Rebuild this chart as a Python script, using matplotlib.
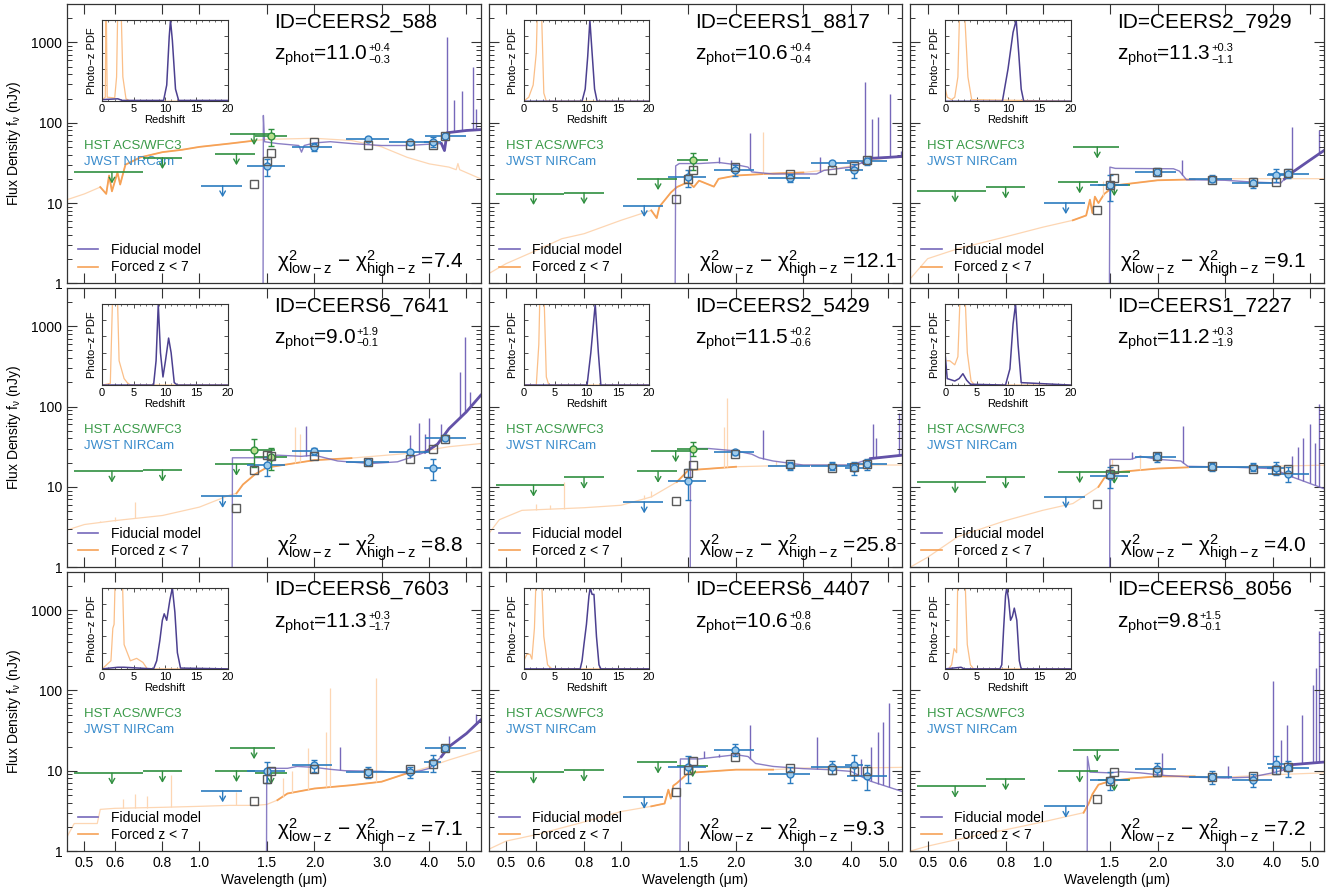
import numpy as np
import matplotlib
matplotlib.use("Agg")
import matplotlib.pyplot as plt
from matplotlib.lines import Line2D
from matplotlib.ticker import FixedLocator, NullLocator, LogLocator, MultipleLocator, NullFormatter

plt.rcParams["font.family"] = ["Liberation Sans", "DejaVu Sans"]
plt.rcParams["mathtext.fontset"] = "custom"
plt.rcParams["mathtext.rm"] = "Liberation Sans"
plt.rcParams["mathtext.it"] = "Liberation Sans:italic"
plt.rcParams["mathtext.bf"] = "Liberation Sans:bold"
plt.rcParams["mathtext.default"] = "regular"

nan = np.nan

# ---- galaxy summary ----
IDS = ["CEERS2_588", "CEERS1_8817", "CEERS2_7929", "CEERS6_7641", "CEERS2_5429",
       "CEERS1_7227", "CEERS6_7603", "CEERS6_4407", "CEERS6_8056"]
ZPHOT = ["11.0", "10.6", "11.3", "9.0", "11.5", "11.2", "11.3", "10.6", "9.8"]
ZERR_UP = ["0.4", "0.4", "0.3", "1.9", "0.2", "0.3", "0.3", "0.8", "1.5"]
ZERR_LO = ["0.3", "0.4", "1.1", "0.1", "0.6", "1.9", "1.7", "0.6", "0.1"]
DCHI2 = ["7.4", "12.1", "9.1", "8.8", "25.8", "4.0", "7.1", "9.3", "7.2"]

# ---- filters ----
BANDS = ["F606W", "F814W", "F125W", "F140W", "F160W",
         "F115W", "F150W", "F200W", "F277W", "F356W", "F410M", "F444W"]
BAND_WAVE = [0.59, 0.80, 1.25, 1.39, 1.54, 1.15, 1.50, 1.99, 2.77, 3.56, 4.08, 4.40]
BAND_MIN = [0.47, 0.71, 1.10, 1.20, 1.40, 1.01, 1.33, 1.75, 2.42, 3.14, 3.86, 3.90]
BAND_MAX = [0.71, 0.90, 1.40, 1.58, 1.69, 1.29, 1.67, 2.23, 3.13, 3.98, 4.30, 4.98]
BAND_HST = [True, True, True, True, True, False, False, False, False, False, False, False]

# ---- photometry (nJy); kind: u = upper limit, d = detection, . = no data ----
PHOT_KIND = ["uuuududddddd", "uuu.dudddddd", "uuuuuudddddd",
             "uuuddudddddd", "uuuududddddd", "uuu.uudddddd",
             "uuuuuudddddd", "uuu.uudddddd", "uuuuuudddddd"]
PHOT_FLUX = [
    [24.3, 36.7, 41.0, 73.0, 67.6, 16.4, 28.6, 49.8, 63.0, 57.5, 57.5, 67.6],
    [13.1, 13.4, 20.1, nan, 34.0, 9.3, 21.0, 25.5, 20.7, 31.7, 25.5, 33.0],
    [14.1, 15.8, 18.3, 49.8, 16.9, 10.1, 16.6, 24.5, 20.1, 17.9, 22.5, 23.3],
    [15.7, 16.1, 19.1, 28.6, 23.4, 7.6, 18.6, 27.8, 20.5, 26.8, 17.2, 41.0],
    [10.5, 13.1, 15.6, 28.1, 30.0, 6.5, 11.8, 26.8, 18.3, 18.3, 17.2, 19.1],
    [11.5, 13.1, 15.4, nan, 15.1, 7.5, 13.6, 23.6, 17.7, 17.7, 17.2, 14.6],
    [9.3, 9.8, 10.0, 19.3, 9.3, 5.6, 10.0, 11.7, 9.7, 9.5, 12.7, 19.0],
    [9.5, 10.1, 12.8, nan, 11.5, 4.65, 11.1, 18.3, 9.1, 11.2, 11.7, 8.7],
    [6.4, 7.9, 9.8, 17.9, 7.7, 3.6, 7.7, 10.5, 8.3, 7.7, 12.1, 10.8],
]
PHOT_ERR = [
    [0, 0, 0, 0, 17, 0, 7, 6, 3, 3, 8, 3],
    [0, 0, 0, 0, 8, 0, 5, 4, 2.5, 2, 5, 3],
    [0, 0, 0, 0, 0, 0, 6, 3, 2, 2.5, 4, 3],
    [0, 0, 0, 11, 7, 0, 5, 3, 2, 2, 5, 3],
    [0, 0, 0, 0, 6, 0, 5, 2, 2, 2, 3, 3],
    [0, 0, 0, 0, 0, 0, 4, 3, 2, 2, 3, 3],
    [0, 0, 0, 0, 0, 0, 3, 2, 1.5, 1.5, 3, 1.5],
    [0, 0, 0, 0, 0, 0, 4, 3, 2, 2, 4, 3],
    [0, 0, 0, 0, 0, 0, 2, 2, 1.5, 1.5, 3, 2.5],
]
MODEL_FLUX = [
    [nan, nan, nan, 17.4, 42.0, nan, 33.0, 57.5, 53.0, 53.0, 53.0, 67.6],
    [nan, nan, nan, 11.1, 25.5, nan, 19.7, 28.0, 23.1, 26.0, 29.0, 34.6],
    [nan, nan, nan, 8.3, 20.4, nan, 16.9, 24.4, 19.2, 18.3, 18.3, 23.6],
    [nan, nan, 5.5, 16.1, 24.4, nan, 24.8, 24.4, 20.5, 22.1, 29.5, 39.0],
    [nan, nan, nan, 6.6, 18.6, nan, 15.0, 26.0, 19.5, 17.2, 17.7, 19.0],
    [nan, nan, nan, 6.1, 16.9, nan, 14.5, 24.0, 18.0, 16.9, 16.1, 16.9],
    [nan, nan, nan, 4.2, 10.0, nan, 7.9, 10.5, 9.3, 10.4, 12.2, 19.0],
    [nan, nan, nan, 5.5, 13.3, nan, 10.3, 14.6, 10.8, 10.3, 9.8, 10.0],
    [nan, nan, nan, 4.4, 9.5, nan, 7.4, 9.6, 8.3, 8.7, 10.3, 11.0],
]

# ---- fiducial (high-z) model spectra: continuum knots + emission lines ----
FID_WAVE = [
    [0.45, 1.465, 1.47, 1.48, 1.6, 1.82, 1.85, 1.88, 2.0, 2.2, 2.5, 3.0, 3.5, 4.0, 4.3, 4.38, 4.45, 5.0, 5.45],
    [0.45, 1.38, 1.39, 1.42, 1.6, 1.8, 2.0, 2.15, 2.2, 2.5, 3.0, 3.25, 3.4, 4.0, 4.3, 4.5, 5.0, 5.45],
    [0.45, 1.49, 1.5, 1.55, 2.2, 2.28, 2.38, 3.0, 3.5, 4.2, 4.3, 4.5, 5.0, 5.45],
    [0.45, 1.215, 1.22, 1.5, 1.6, 1.85, 2.0, 2.3, 2.8, 3.3, 3.5, 3.9, 4.2, 4.5, 5.0, 5.45],
    [0.45, 1.515, 1.52, 1.7, 2.0, 2.2, 2.3, 2.5, 3.0, 4.0, 4.5, 5.45],
    [0.45, 1.495, 1.5, 1.7, 1.8, 2.0, 2.3, 2.4, 3.0, 4.0, 4.5, 5.45],
    [0.45, 1.495, 1.5, 1.7, 1.8, 2.0, 2.2, 2.4, 3.0, 3.5, 3.8, 4.0, 4.3, 4.5, 5.0, 5.45],
    [0.45, 1.42, 1.43, 1.6, 2.0, 2.15, 2.25, 2.5, 3.0, 3.5, 4.0, 4.5, 5.45],
    [0.45, 1.305, 1.31, 1.33, 1.5, 1.6, 1.8, 2.1, 2.5, 3.0, 3.5, 4.0, 4.3, 4.5, 5.45],
]
FID_FLUX = [
    [0.01, 0.01, 123, 58, 55, 52, 43, 52, 56, 58, 55, 52, 52, 54, 55, 45, 75, 80, 82],
    [0.01, 0.01, 29, 31, 31, 32, 30, 28, 24.4, 23, 23, 23, 25.5, 28, 32, 36, 37, 38],
    [0.01, 0.01, 28, 27, 26.7, 25, 19.5, 19.2, 18.3, 17.7, 20, 24, 34, 45],
    [0.01, 0.01, 23, 23, 24.8, 24, 24.8, 21, 19.5, 20.5, 22.5, 27, 34, 53, 86, 138],
    [0.01, 0.01, 30, 30, 28, 25.5, 23, 21, 18.7, 18.7, 22.5, 24.8],
    [0.01, 0.01, 22, 22, 24, 22, 21, 18, 17.7, 16.9, 13.3, 9.5],
    [0.01, 0.01, 10.7, 10.7, 11.3, 11, 10.4, 10, 9.8, 9.4, 10, 10.7, 15, 19.9, 29, 42.8],
    [0.01, 0.01, 14, 14, 15.8, 15, 12.3, 11.3, 10.6, 10.3, 9.8, 7.4, 5.5],
    [0.01, 0.01, 15, 9.6, 9.4, 9.7, 9.4, 8.7, 8.3, 8.1, 8.3, 9.4, 10.3, 11.9, 12.8],
]
FID_LINE_WAVE = [
    [4.45, 4.64, 4.88, 5.19, 5.3],
    [1.81, 1.94, 2.17, 3.32, 4.36, 4.55, 4.7, 5.05, 5.4],
    [2.32, 4.5, 5.3],
    [1.90, 3.56, 3.76, 3.9, 4.0, 4.3, 4.8, 4.97, 5.1],
    [2.36, 4.56, 4.65, 5.35, 5.45],
    [1.71, 2.33, 4.5, 4.65, 4.8, 5.0, 5.15, 5.3],
    [2.34, 3.5, 4.5, 5.3],
    [1.65, 1.8, 2.18, 3.26, 4.25, 4.5, 4.7, 4.85, 5.04],
    [2.05, 3.05, 4.0, 4.2, 4.35, 4.78, 5.1, 5.2, 5.3],
]
FID_LINE_PEAK = [
    [1165, 190, 250, 490, 150],
    [37, 34, 74, 37, 322, 112, 117, 230, 45],
    [34, 88, 80],
    [58, 44, 62, 46, 72, 60, 270, 740, 150],
    [51, 60, 40, 82, 120],
    [27, 57, 24, 31, 40, 60, 35, 109],
    [19.5, 11, 27, 51],
    [17.5, 16, 37, 26, 14, 20, 30, 40, 69],
    [16.6, 11.5, 129, 24, 37, 50, 117, 190, 543],
]
FID_DENSE = [(4.3, 5.5), (4.3, 5.5), (4.3, 5.5), (3.8, 5.5), (4.4, 5.5),
             (4.4, 5.3), (4.2, 5.5), (4.2, 5.1), (4.3, 5.5)]

# ---- forced z<7 model spectra ----
LOW_WAVE = [
    [0.45, 0.5, 0.55, 0.57, 0.58, 0.59, 0.61, 0.62, 0.64, 0.7, 0.8, 0.9, 1.0, 1.2, 1.4, 1.5, 2.0, 2.5, 3.0, 3.5, 4.0, 4.5, 4.7, 4.75, 4.8, 5.45],
    [0.45, 0.5, 0.6, 0.7, 0.8, 1.0, 1.2, 1.24, 1.26, 1.3, 1.35, 1.4, 1.45, 1.5, 1.55, 1.6, 1.75, 1.8, 2.0, 2.5, 3.0, 3.5, 4.0, 4.5, 5.45],
    [0.45, 0.5, 0.6, 0.8, 1.0, 1.2, 1.3, 1.33, 1.35, 1.37, 1.4, 1.45, 1.55, 2.0, 2.5, 3.0, 4.0, 5.45],
    [0.45, 0.5, 0.6, 0.8, 1.0, 1.2, 1.25, 1.3, 1.4, 1.5, 2.0, 2.5, 3.0, 3.5, 4.0, 4.5, 5.45],
    [0.45, 0.48, 0.55, 0.8, 1.0, 1.2, 1.4, 1.5, 2.0, 3.0, 4.0, 5.45],
    [0.45, 0.5, 0.6, 0.8, 1.0, 1.2, 1.4, 1.45, 1.5, 1.6, 2.0, 2.4, 3.0, 4.0, 5.45],
    [0.45, 0.47, 0.54, 0.55, 0.6, 0.8, 1.0, 1.2, 1.4, 1.5, 1.6, 1.7, 2.0, 2.5, 3.0, 3.5, 4.0, 4.5, 5.45],
    [0.45, 0.5, 0.6, 0.8, 1.0, 1.2, 1.3, 1.33, 1.35, 1.37, 1.4, 1.5, 2.0, 2.5, 3.0, 4.0, 5.45],
    [0.45, 0.5, 0.6, 0.8, 1.0, 1.2, 1.28, 1.32, 1.35, 1.4, 1.5, 1.7, 2.0, 2.5, 3.0, 4.0, 5.45],
]
LOW_FLUX = [
    [11, 13, 15.8, 13, 22, 14, 24, 17, 30, 37, 43, 46, 50, 55, 60, 62, 64, 60, 50, 37, 30.7, 28, 26, 31, 26, 20],
    [1.32, 1.76, 2.57, 3.6, 4.15, 6.1, 8.1, 6.5, 9, 10.8, 13.5, 15.8, 17, 18.3, 15.8, 19, 16, 20, 22, 23.3, 24, 26, 29, 34, 39],
    [1.14, 2.03, 2.7, 3.8, 5.0, 6.1, 7.0, 11, 7.5, 12, 10, 13, 16.6, 19.2, 19.7, 20.1, 20.1, 20.1],
    [2.9, 3.4, 3.8, 4.4, 5.6, 7.9, 8.3, 10.7, 14.4, 17.4, 21.5, 22.8, 24.5, 26, 28.8, 31.6, 34.6],
    [2.6, 3.9, 5.1, 5.5, 5.9, 7.5, 11.5, 16.1, 17.8, 18.7, 18.7, 18.7],
    [1.0, 1.33, 2.4, 3.8, 5.1, 6.2, 10, 12.9, 14, 15.4, 16.9, 17.5, 17.7, 18.1, 18.6],
    [1.5, 2.2, 2.2, 3.3, 3.4, 3.5, 3.6, 3.7, 3.7, 3.8, 4.3, 5.2, 6.0, 6.6, 7.3, 9.3, 11.2, 13.6, 18],
    [1.05, 1.33, 1.6, 2.3, 3.1, 3.6, 3.9, 5.8, 4.5, 6.5, 7.0, 9.4, 10.3, 10.3, 10.8, 10.8, 11],
    [1.0, 1.15, 1.4, 1.84, 2.3, 2.8, 3.0, 3.9, 5.1, 6.7, 7.4, 8.0, 8.5, 8.5, 8.3, 8.9, 9.4],
]
LOW_LINE_WAVE = [
    [],
    [2.35],
    [1.44],
    [0.55, 0.6, 0.68, 1.78, 1.83],
    [0.6, 0.65, 0.71, 1.15, 1.2, 1.86, 1.89, 2.55],
    [1.52, 1.8],
    [0.63, 0.68, 0.73, 0.84, 1.25, 1.65, 1.75, 1.92, 2.15, 2.2, 2.9],
    [],
    [],
]
LOW_LINE_PEAK = [
    [],
    [76],
    [19],
    [3.8, 4.2, 6.5, 56, 45],
    [6.2, 6.0, 11.5, 8.0, 8.8, 55, 126, 21],
    [22, 25],
    [4.4, 5.2, 4.8, 8.8, 5.5, 8, 10, 19, 30, 106, 141],
    [],
    [],
]
LOW_DENSE = [(0.55, 1.45), (1.2, 3.3), (1.2, 2.6), (1.25, 2.7), (1.35, 2.2),
             (1.3, 2.4), (1.6, 3.5), (1.2, 2.9), (1.25, 2.8)]

# ---- photo-z probability distributions (normalised to peak) ----
PDF_Z_FID = [
    [0, 2.5, 3.2, 9.8, 10.3, 10.7, 10.9, 11.2, 11.7, 12.2, 20],
    [0, 9.3, 9.8, 10.2, 10.55, 10.9, 11.3, 11.7, 20],
    [0, 9.1, 10.0, 10.8, 11.3, 11.7, 12.1, 12.5, 20],
    [0, 8.2, 8.6, 8.95, 9.3, 9.7, 10.1, 10.6, 11.0, 11.5, 12, 20],
    [0, 10.1, 10.7, 11.4, 11.9, 12.3, 20],
    [0, 0.3, 1.5, 2.2, 2.8, 3.4, 4.0, 9.6, 10.3, 10.8, 11.2, 11.6, 12.1, 20],
    [0, 2.5, 3.5, 8.2, 8.7, 9.2, 9.6, 9.9, 10.3, 10.8, 11.2, 11.6, 12.0, 12.5, 20],
    [0, 9.0, 9.3, 9.6, 10.0, 10.4, 10.6, 10.9, 11.2, 11.6, 12.0, 12.3, 20],
    [0, 2.5, 3.0, 8.7, 9.0, 9.3, 9.6, 9.8, 10.1, 10.4, 10.7, 11.0, 11.4, 11.8, 12.1, 20],
]
PDF_P_FID = [
    [0.02, 0.03, 0.01, 0.01, 0.2, 0.8, 1.0, 0.75, 0.15, 0.01, 0.01],
    [0, 0, 0.15, 0.55, 1.0, 0.6, 0.15, 0, 0],
    [0, 0, 0.4, 0.85, 1.0, 0.6, 0.15, 0, 0],
    [0, 0, 0.3, 1.0, 0.4, 0.1, 0.3, 0.58, 0.4, 0.03, 0, 0],
    [0, 0, 0.4, 1.0, 0.4, 0, 0],
    [0.35, 0.08, 0.05, 0.08, 0.14, 0.06, 0.01, 0, 0.2, 0.75, 1.0, 0.5, 0.03, 0],
    [0, 0.02, 0.02, 0, 0.1, 0.35, 0.6, 0.68, 0.6, 0.85, 1.0, 0.7, 0.2, 0.01, 0],
    [0, 0, 0.1, 0.3, 0.55, 0.9, 1.0, 0.92, 0.92, 0.4, 0.05, 0, 0],
    [0, 0.02, 0, 0, 0.05, 0.5, 0.9, 1.0, 0.85, 0.6, 0.65, 0.75, 0.6, 0.1, 0, 0],
]
PDF_Z_LOW = [
    [0, 0.5, 0.6, 0.65, 0.8, 2.0, 2.3, 2.5, 3.0, 3.3, 3.8, 4.5, 20],
    [0, 0.8, 1.5, 2.0, 2.2, 2.8, 3.2, 3.6, 20],
    [0, 0.3, 1.0, 1.5, 2.0, 2.3, 3.0, 3.6, 4.2, 20],
    [0, 1.3, 1.7, 2.4, 2.7, 3.5, 4.0, 4.5, 20],
    [0, 2.0, 2.4, 2.6, 3.2, 3.6, 4.0, 20],
    [0.3, 0.7, 1.5, 2.0, 2.4, 3.1, 3.5, 4.1, 4.7, 20],
    [0, 1.4, 1.7, 1.9, 2.1, 3.2, 3.5, 4.5, 5.5, 6.5, 7.2, 20],
    [0, 0.5, 1.0, 1.3, 1.7, 2.0, 2.8, 3.2, 3.8, 4.5, 20],
    [0.5, 1.0, 1.4, 1.8, 2.0, 3.1, 3.5, 4.0, 4.5, 20],
]
PDF_P_LOW = [
    [0.02, 0.05, 1.2, 1.2, 0.05, 0.04, 0.3, 1.2, 1.2, 0.3, 0.03, 0.0, 0.0],
    [0, 0.05, 0.2, 0.6, 1.2, 1.2, 0.1, 0, 0],
    [0.15, 0.05, 0.02, 0.05, 0.3, 1.2, 1.2, 0.3, 0.02, 0],
    [0, 0.02, 1.2, 1.2, 0.3, 0.08, 0.03, 0, 0],
    [0, 0, 0.5, 1.2, 1.2, 0.1, 0, 0],
    [0.3, 0.3, 0.25, 0.35, 1.2, 1.2, 0.4, 0.05, 0, 0],
    [0, 0.1, 0.5, 0.55, 1.2, 1.2, 0.3, 0.1, 0.13, 0.08, 0, 0],
    [0.1, 0.18, 0.18, 0.12, 0.5, 1.2, 1.2, 0.4, 0.05, 0, 0],
    [0, 0.05, 0.25, 0.2, 1.2, 1.2, 0.3, 0.05, 0, 0],
]

XTICKS = [0.5, 0.6, 0.8, 1.0, 1.5, 2.0, 3.0, 4.0, 5.0]
XTICK_LABELS = ["0.5", "0.6", "0.8", "1.0", "1.5", "2.0", "3.0", "4.0", "5.0"]
YTICKS = [1, 10, 100, 1000]
YTICK_LABELS = ["1", "10", "100", "1000"]

FID_COLOR = "#7668ba"
FID_DARK = "#6352a8"
FID_PDF = "#4c4090"
LOW_LIGHT = "#fdd6b3"
LOW_DARK = "#f6a257"
HST_COLOR = "#2f8f3f"
HST_FILL = "#b8de8c"
JWST_COLOR = "#2b7bbf"
JWST_FILL = "#9dcbec"
MODEL_EDGE = "#5a5a5a"
AX_COLOR = "#333333"


def draw_line_spikes(ax, wave, flux, line_wave, line_peak, color, lw):
    if len(line_wave) == 0:
        return
    base = np.exp(np.interp(np.log(line_wave), np.log(wave), np.log(flux)))
    ax.vlines(line_wave, base, line_peak, color=color, lw=lw, zorder=1.5)


def draw_panel(ax, i):
    # forced low-z model
    lw_ = np.array(LOW_WAVE[i])
    lf = np.array(LOW_FLUX[i])
    ax.plot(lw_, lf, color=LOW_LIGHT, lw=0.9, zorder=1)
    draw_line_spikes(ax, lw_, lf, LOW_LINE_WAVE[i], LOW_LINE_PEAK[i], LOW_LIGHT, 0.9)
    lo, hi = LOW_DENSE[i]
    m = (lw_ >= lo) & (lw_ <= hi)
    ax.plot(lw_[m], lf[m], color=LOW_DARK, lw=1.3, zorder=1.1)

    # fiducial model
    fw = np.array(FID_WAVE[i])
    ff = np.array(FID_FLUX[i])
    ax.plot(fw, ff, color=FID_COLOR, lw=1.0, alpha=0.85, zorder=2)
    draw_line_spikes(ax, fw, ff, FID_LINE_WAVE[i], FID_LINE_PEAK[i], FID_COLOR, 1.0)
    lo, hi = FID_DENSE[i]
    m = (fw >= lo) & (fw <= hi)
    ax.plot(fw[m], ff[m], color=FID_DARK, lw=2.0, zorder=2.1)

    # photometry
    for b in range(len(BANDS)):
        kind = PHOT_KIND[i][b]
        if kind == ".":
            continue
        col = HST_COLOR if BAND_HST[b] else JWST_COLOR
        fill = HST_FILL if BAND_HST[b] else JWST_FILL
        x = BAND_WAVE[b]
        y = PHOT_FLUX[i][b]
        if kind == "u":
            ax.hlines(y, BAND_MIN[b], BAND_MAX[b], color=col, lw=1.2, zorder=4)
            ax.annotate("", xy=(x, y * 0.72), xytext=(x, y),
                        arrowprops=dict(arrowstyle="->,head_length=0.35,head_width=0.2",
                                        color=col, lw=1.0, shrinkA=0, shrinkB=0,
                                        mutation_scale=10), zorder=4)
        else:
            ax.hlines(y, BAND_MIN[b], BAND_MAX[b], color=col, lw=1.2, zorder=4)
            ax.errorbar(x, y, yerr=PHOT_ERR[i][b], fmt="o", ms=5, mfc=fill, mec=col,
                        mew=1.0, ecolor=col, elinewidth=1.0, capsize=2, zorder=5)

    ax.plot(BAND_WAVE, MODEL_FLUX[i], ls="none", marker="s", ms=6, mfc="none",
            mec=MODEL_EDGE, mew=1.0, zorder=6)

    # labels inside the panel
    ax.text(0.50, 0.935, f"ID={IDS[i]}", transform=ax.transAxes, fontsize=15,
            ha="left", va="center")
    zt = ax.text(0.50, 0.80, r"z$_{phot}$=" + ZPHOT[i], transform=ax.transAxes,
                 fontsize=15, ha="left", va="baseline")
    ax.annotate("+" + ZERR_UP[i], xy=(1, 1), xycoords=zt, xytext=(0.5, -3),
                textcoords="offset points", fontsize=8, ha="left", va="center")
    ax.annotate("\u2212" + ZERR_LO[i], xy=(1, 1), xycoords=zt, xytext=(0.5, -11.5),
                textcoords="offset points", fontsize=8, ha="left", va="center")
    ax.text(0.508, 0.054, r"$\chi^2_{low-z}$ $-$ $\chi^2_{high-z}$ =" + DCHI2[i],
            transform=ax.transAxes, fontsize=15, ha="left", va="baseline")
    ax.text(0.041, 0.491, "HST ACS/WFC3", transform=ax.transAxes, fontsize=9.5,
            color="#3a9a48", va="center")
    ax.text(0.041, 0.434, "JWST NIRCam", transform=ax.transAxes, fontsize=9.5,
            color="#3a8ccc", va="center")
    handles = [Line2D([], [], color=FID_COLOR, lw=1.2),
               Line2D([], [], color=LOW_DARK, lw=1.2)]
    ax.legend(handles, ["Fiducial model", "Forced z < 7"], loc="lower left",
              bbox_to_anchor=(0.012, 0.012), frameon=False, fontsize=10,
              handlelength=1.5, handletextpad=0.9, labelspacing=0.25,
              borderaxespad=0)

    # axes
    ax.set_xscale("log")
    ax.set_yscale("log")
    ax.set_xlim(0.45, 5.45)
    ax.set_ylim(1, 3000)
    ax.xaxis.set_major_locator(FixedLocator(XTICKS))
    ax.xaxis.set_minor_locator(NullLocator())
    ax.yaxis.set_major_locator(FixedLocator(YTICKS))
    ax.yaxis.set_minor_locator(LogLocator(base=10, subs=np.arange(2, 10)))
    ax.yaxis.set_minor_formatter(NullFormatter())
    ax.tick_params(which="both", direction="in", top=True, right=True,
                   color=AX_COLOR, labelsize=10)
    ax.tick_params(which="major", length=7, width=0.8)
    ax.tick_params(which="minor", length=3.5, width=0.7)
    for s in ax.spines.values():
        s.set_color(AX_COLOR)
        s.set_linewidth(0.9)

    # photo-z inset
    ins = ax.inset_axes([0.085, 0.652, 0.303, 0.29])
    ins.plot(PDF_Z_LOW[i], PDF_P_LOW[i], color="#fbbf88", lw=0.9)
    ins.plot(PDF_Z_FID[i], PDF_P_FID[i], color=FID_PDF, lw=1.1)
    ins.set_xlim(0, 20)
    ins.set_ylim(0, 1.0)
    ins.xaxis.set_major_locator(FixedLocator([0, 5, 10, 15, 20]))
    ins.xaxis.set_minor_locator(MultipleLocator(1))
    ins.yaxis.set_major_locator(MultipleLocator(0.2))
    ins.yaxis.set_minor_locator(NullLocator())
    ins.set_yticklabels([])
    ins.tick_params(which="both", direction="in", top=True, right=True,
                    labelsize=8, pad=2, color=AX_COLOR)
    ins.tick_params(which="major", length=3, width=0.6)
    ins.tick_params(which="minor", length=1.5, width=0.5)
    ins.set_xlabel("Redshift", fontsize=8, labelpad=1)
    ins.set_ylabel("Photo\u2212z PDF", fontsize=8, labelpad=2)
    for s in ins.spines.values():
        s.set_color(AX_COLOR)
        s.set_linewidth(0.8)


fig, axs = plt.subplots(3, 3, figsize=(13.4, 8.93), dpi=100)
fig.subplots_adjust(left=0.05, right=0.988, top=0.9955, bottom=0.047,
                    wspace=0.019, hspace=0.016)

for i in range(9):
    row, col = divmod(i, 3)
    ax = axs[row][col]
    draw_panel(ax, i)
    if row == 2:
        ax.set_xticklabels(XTICK_LABELS)
        ax.set_xlabel("Wavelength (\u03bcm)", fontsize=10, labelpad=2)
    else:
        ax.set_xticklabels([])
    if col == 0:
        ax.set_yticklabels(YTICK_LABELS)
        ax.set_ylabel(r"Flux Density f$_{\nu}$ (nJy)", fontsize=10, labelpad=6)
    else:
        ax.set_yticklabels([])

fig.savefig("out.png", dpi=100)
